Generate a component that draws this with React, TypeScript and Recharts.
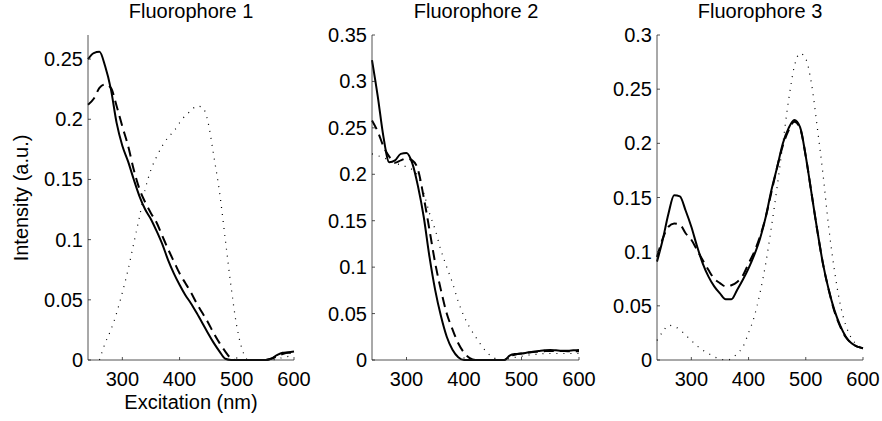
import React from "react";
import { Line, LineChart, XAxis, YAxis } from "recharts";

const wavelengths = [
  240, 250, 260, 270, 280, 290, 300, 310, 320, 330, 340, 350, 360, 370, 380, 390, 400, 410, 420,
  430, 440, 450, 460, 470, 480, 490, 500, 510, 520, 530, 540, 550, 560, 570, 580, 590, 600,
];

const xTicks = [300, 400, 500, 600];

// Fluorophore 1
const f1Solid = [
  0.25, 0.255, 0.256, 0.244, 0.225, 0.197, 0.178, 0.165, 0.15, 0.136, 0.125, 0.117, 0.107, 0.096,
  0.083, 0.072, 0.0625, 0.054, 0.047, 0.039, 0.0306, 0.022, 0.014, 0.007, 0.001, 0, 0, 0, 0, 0, 0,
  0, 0.001, 0.004, 0.006, 0.0064, 0.007,
];
const f1Dashed = [
  0.212, 0.217, 0.226, 0.229, 0.226, 0.211, 0.194, 0.178, 0.158, 0.142, 0.131, 0.122, 0.114, 0.103,
  0.092, 0.082, 0.072, 0.064, 0.056, 0.047, 0.039, 0.031, 0.022, 0.014, 0.007, 0.0014, 0, 0, 0, 0,
  0, 0, 0.001, 0.003, 0.005, 0.006, 0.006,
];
const f1Dotted = [
  null, null, 0, 0.014, 0.025, 0.039, 0.056, 0.075, 0.097, 0.119, 0.142, 0.158, 0.169, 0.178, 0.185,
  0.19, 0.197, 0.203, 0.207, 0.211, 0.21, 0.197, 0.169, 0.139, 0.1, 0.061, 0.028, 0.008, 0, 0, 0, 0,
  0, 0.001, 0.002, 0.003, 0.004,
];
const f1YTicks = [0, 0.05, 0.1, 0.15, 0.2, 0.25];

// Fluorophore 2
const f2Solid = [
  0.323, 0.284, 0.24, 0.213, 0.215, 0.222, 0.223, 0.212, 0.187, 0.154, 0.111, 0.075, 0.047, 0.025,
  0.011, 0.003, 0, 0, 0, 0, 0, 0, 0, 0, 0.005, 0.0065, 0.007, 0.008, 0.009, 0.0097, 0.0104, 0.0108,
  0.0104, 0.01, 0.01, 0.0104, 0.0108,
];
const f2Dashed = [
  0.258, 0.246, 0.23, 0.219, 0.2125, 0.215, 0.217, 0.215, 0.205, 0.175, 0.14, 0.104, 0.075, 0.05,
  0.033, 0.018, 0.008, 0.002, 0, 0, 0, 0, 0, 0, 0.004, 0.006, 0.007, 0.008, 0.0085, 0.009, 0.0095,
  0.0098, 0.0098, 0.0098, 0.0095, 0.0095, 0.0095,
];
const f2Dotted = [
  0.222, 0.22, 0.218, 0.215, 0.212, 0.21, 0.208, 0.205, 0.198, 0.18, 0.158, 0.14, 0.118, 0.1, 0.083,
  0.063, 0.047, 0.035, 0.025, 0.016, 0.008, 0.003, 0.0005, 0, 0.002, 0.003, 0.004, 0.005, 0.006,
  0.006, 0.007, 0.007, 0.007, 0.007, 0.007, 0.007, 0.007,
];
const f2YTicks = [0, 0.05, 0.1, 0.15, 0.2, 0.25, 0.3, 0.35];

// Fluorophore 3
const f3Solid = [
  0.0908, 0.111, 0.135, 0.152, 0.151, 0.138, 0.123, 0.105, 0.089, 0.077, 0.068, 0.0615, 0.056,
  0.056, 0.0646, 0.074, 0.0846, 0.097, 0.112, 0.132, 0.157, 0.178, 0.2, 0.214, 0.2215, 0.215, 0.188,
  0.154, 0.12, 0.089, 0.065, 0.046, 0.032, 0.0215, 0.0154, 0.0123, 0.0108,
];
const f3Dashed = [
  0.095, 0.112, 0.123, 0.126, 0.125, 0.117, 0.111, 0.1015, 0.092, 0.083, 0.075, 0.071, 0.068, 0.069,
  0.072, 0.078, 0.089, 0.1, 0.114, 0.132, 0.155, 0.178, 0.198, 0.212, 0.22, 0.214, 0.188, 0.154,
  0.12, 0.089, 0.065, 0.045, 0.031, 0.021, 0.0154, 0.0123, 0.0108,
];
const f3Dotted = [
  0.018, 0.026, 0.032, 0.031, 0.028, 0.023, 0.018, 0.013, 0.009, 0.006, 0.003, 0.001, 0, 0.001,
  0.006, 0.012, 0.025, 0.04, 0.062, 0.089, 0.123, 0.16, 0.2, 0.24, 0.271, 0.283, 0.278, 0.255, 0.215,
  0.172, 0.123, 0.083, 0.052, 0.032, 0.02, 0.014, 0.011,
];
const f3YTicks = [0, 0.05, 0.1, 0.15, 0.2, 0.25, 0.3];

const FONT = "'Liberation Sans', Arial, Helvetica, sans-serif";
const AXIS = "#262626";

const buildRows = (a: (number | null)[], b: (number | null)[], c: (number | null)[]) =>
  wavelengths.map((w, i) => ({ w, solid: a[i], dashed: b[i], dotted: c[i] }));

const XTick = (props: any) => {
  const { x, y, payload } = props;
  return (
    <g>
      <line x1={x} x2={x} y1={y} y2={y - 3} stroke={AXIS} strokeWidth={0.8} />
      <text x={x} y={y + 26} textAnchor="middle" fontSize={20} fontFamily={FONT} fill="#000">
        {payload.value}
      </text>
    </g>
  );
};

const YTick = (props: any) => {
  const { x, y, payload } = props;
  return (
    <g>
      <line x1={x} x2={x + 3} y1={y} y2={y} stroke={AXIS} strokeWidth={0.8} />
      <text x={x - 5} y={y + 7} textAnchor="end" fontSize={20} fontFamily={FONT} fill="#000">
        {payload.value}
      </text>
    </g>
  );
};

type PanelProps = {
  left: number;
  width: number;
  yAxisWidth: number;
  rightMargin: number;
  yMax: number;
  yTicks: number[];
  rows: any[];
};

const Panel = ({ left, width, yAxisWidth, rightMargin, yMax, yTicks, rows }: PanelProps) => (
  <div style={{ position: "absolute", left, top: 0 }}>
    <LineChart
      width={width}
      height={421}
      data={rows}
      margin={{ top: 35, right: rightMargin, bottom: 0, left: 0 }}
    >
      <XAxis
        dataKey="w"
        type="number"
        domain={[240, 600]}
        ticks={xTicks}
        height={61}
        tickSize={0}
        tickMargin={0}
        tickLine={false}
        axisLine={{ stroke: AXIS, strokeWidth: 0.8 }}
        tick={<XTick />}
        interval={0}
      />
      <YAxis
        type="number"
        domain={[0, yMax]}
        ticks={yTicks}
        width={yAxisWidth}
        tickSize={0}
        tickMargin={0}
        tickLine={false}
        axisLine={{ stroke: AXIS, strokeWidth: 0.8 }}
        tick={<YTick />}
        interval={0}
      />
      <Line
        type="monotone"
        dataKey="dotted"
        stroke="#000"
        strokeWidth={1.2}
        strokeDasharray="1 6"
        dot={false}
        isAnimationActive={false}
      />
      <Line
        type="monotone"
        dataKey="dashed"
        stroke="#000"
        strokeWidth={2}
        strokeDasharray="10 6"
        dot={false}
        isAnimationActive={false}
      />
      <Line
        type="monotone"
        dataKey="solid"
        stroke="#000"
        strokeWidth={2}
        dot={false}
        isAnimationActive={false}
      />
    </LineChart>
  </div>
);

const textStyle: React.CSSProperties = {
  position: "absolute",
  fontFamily: FONT,
  fontSize: 20,
  lineHeight: "20px",
  color: "#000",
  whiteSpace: "nowrap",
};

export default function App() {
  return (
    <div
      style={{
        position: "absolute",
        left: 0,
        top: 0,
        width: 882,
        height: 421,
        background: "#fff",
        overflow: "hidden",
      }}
    >
      <Panel
        left={0}
        width={320}
        yAxisWidth={88}
        rightMargin={26}
        yMax={0.27}
        yTicks={f1YTicks}
        rows={buildRows(f1Solid, f1Dashed, f1Dotted)}
      />
      <Panel
        left={300}
        width={310}
        yAxisWidth={72}
        rightMargin={31}
        yMax={0.35}
        yTicks={f2YTicks}
        rows={buildRows(f2Solid, f2Dashed, f2Dotted)}
      />
      <Panel
        left={590}
        width={292}
        yAxisWidth={67}
        rightMargin={19}
        yMax={0.3}
        yTicks={f3YTicks}
        rows={buildRows(f3Solid, f3Dashed, f3Dotted)}
      />

      <div style={{ ...textStyle, left: 191, top: 1, transform: "translateX(-50%)" }}>
        Fluorophore 1
      </div>
      <div style={{ ...textStyle, left: 476, top: 1, transform: "translateX(-50%)" }}>
        Fluorophore 2
      </div>
      <div style={{ ...textStyle, left: 760, top: 1, transform: "translateX(-50%)" }}>
        Fluorophore 3
      </div>
      <div style={{ ...textStyle, left: 191, top: 392, transform: "translateX(-50%)" }}>
        Excitation (nm)
      </div>
      <div
        style={{
          ...textStyle,
          left: 21,
          top: 198,
          transform: "translate(-50%, -50%) rotate(-90deg)",
        }}
      >
        Intensity (a.u.)
      </div>
    </div>
  );
}
